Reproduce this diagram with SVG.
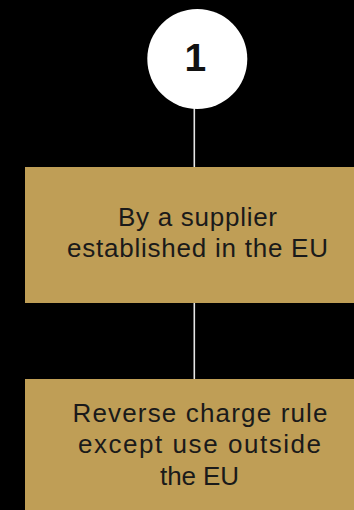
<svg xmlns="http://www.w3.org/2000/svg" width="354" height="510" viewBox="0 0 354 510">
<style>
.box{fill:#BF9E56}
.lbl{font-family:"Liberation Sans",Arial,sans-serif;font-size:26px;fill:#1a1a1a;text-anchor:middle}
.num{font-family:"Liberation Sans",Arial,sans-serif;font-size:39px;font-weight:bold;fill:#111;text-anchor:middle}
.conn{stroke:#e6e6e6;stroke-width:1.6;fill:none}
</style>
<rect width="354" height="510" fill="#000"/>
<g id="connectors">
<line class="conn" x1="194.3" y1="108" x2="194.3" y2="167"/>
<line class="conn" x1="194.3" y1="302" x2="194.3" y2="379"/>
</g>
<g id="node-1">
<circle cx="197.3" cy="59" r="50" fill="#fff"/>
<text class="num" x="195.4" y="70.7">1</text>
</g>
<g id="node-supplier">
<rect class="box" x="25" y="167" width="329" height="136"/>
<text class="lbl" x="197.5" y="226" textLength="159" lengthAdjust="spacing">By a supplier</text>
<text class="lbl" x="197.5" y="257.3" textLength="261" lengthAdjust="spacing">established in the EU</text>
</g>
<g id="node-reverse">
<rect class="box" x="25" y="379" width="329" height="131"/>
<text class="lbl" x="200" y="421.7" textLength="255" lengthAdjust="spacing">Reverse charge rule</text>
<text class="lbl" x="199.5" y="453.3" textLength="243" lengthAdjust="spacing">except use outside</text>
<text class="lbl" x="199.5" y="485" textLength="79" lengthAdjust="spacing">the EU</text>
</g>
</svg>
